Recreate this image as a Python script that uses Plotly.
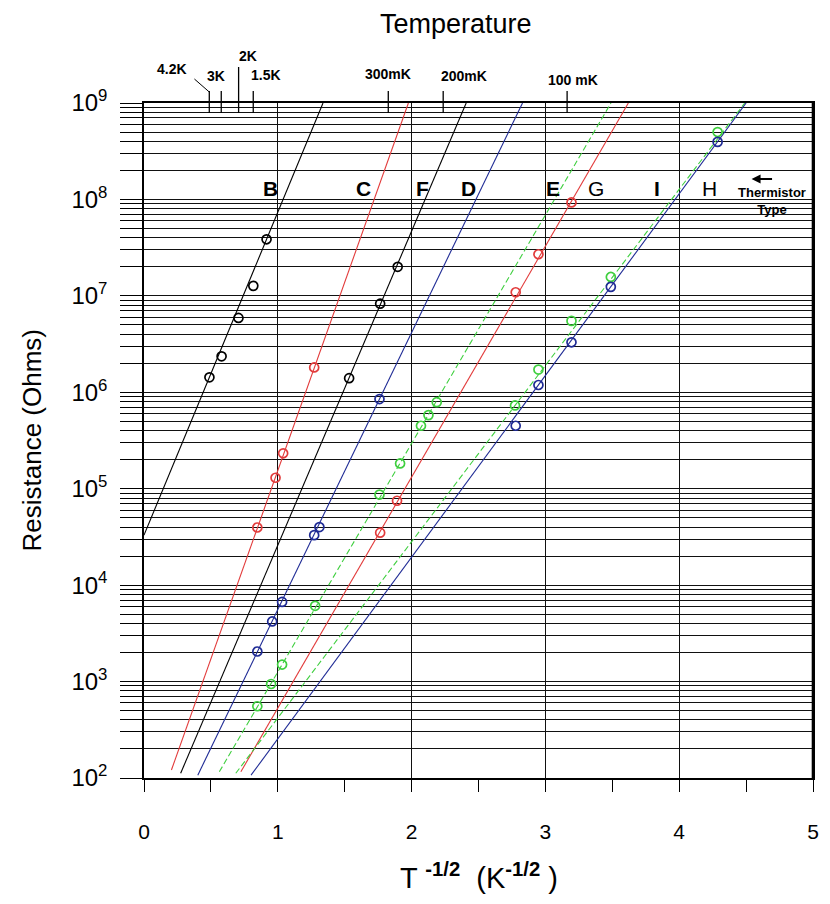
import numpy as np
import plotly.graph_objects as go

# ---------------- data ----------------
types = ["B", "C", "F", "D", "E", "G", "I", "H"]
type_colors = ["#000000", "#e23b3b", "#000000", "#1f2b95", "#3fcf3f", "#e23b3b", "#3fcf3f", "#1f2b95"]
type_dash = ["solid", "solid", "solid", "solid", "6px,3px", "solid", "6px,3px", "solid"]

B_x = [0.489, 0.580, 0.706, 0.817, 0.916]
B_R = [1.43e6, 2.36e6, 5.9e6, 1.27e7, 3.86e7]
C_x = [0.847, 0.983, 1.040, 1.272]
C_R = [3.96e4, 1.30e5, 2.33e5, 1.81e6]
F_x = [1.533, 1.765, 1.896]
F_R = [1.40e6, 8.3e6, 2.0e7]
D_x = [0.847, 0.958, 1.032, 1.272, 1.311, 1.760]
D_R = [2.05e3, 4.2e3, 6.7e3, 3.3e4, 4.0e4, 8.5e5]
E_x = [0.847, 0.950, 1.032, 1.279, 1.760, 1.914, 2.070, 2.126, 2.188]
E_R = [555, 944, 1.5e3, 6.1e3, 8.7e4, 1.83e5, 4.5e5, 5.8e5, 7.9e5]
G_x = [1.765, 1.891, 2.778, 2.948, 3.195]
G_R = [3.5e4, 7.5e4, 1.09e7, 2.7e7, 9.3e7]
I_x = [2.773, 2.948, 3.195, 3.489, 4.287]
I_R = [7.3e5, 1.72e6, 5.5e6, 1.57e7, 5.0e8]
H_x = [2.778, 2.948, 3.195, 3.489, 4.287]
H_R = [4.5e5, 1.19e6, 3.3e6, 1.24e7, 3.95e8]

points_x = [B_x, C_x, F_x, D_x, E_x, G_x, I_x, H_x]
points_R = [B_R, C_R, F_R, D_R, E_R, G_R, I_R, H_R]

# fitted lines: start / end points
fit_x0 = [0.000, 0.205, 0.274, 0.402, 0.563, 0.724, 0.686, 0.800]
fit_R0 = [3.3e4, 121, 112, 107, 116, 116, 112, 107]
fit_x1 = [1.338, 1.976, 2.408, 2.829, 3.490, 3.620, 4.490, 4.500]
fit_R1 = [1e9, 1e9, 1e9, 1e9, 1e9, 1e9, 1e9, 1e9]

# type label positions
label_x = [0.945, 1.637, 2.081, 2.427, 3.057, 3.378, 3.835, 4.230]
label_R = 1.3e8
label_bold = [True, True, True, True, True, False, True, False]

# temperature scale (top)
temps = [4.2, 3.0, 2.0, 1.5, 0.3, 0.2, 0.1]
temp_labels = ["4.2K", "3K", "2K", "1.5K", "300mK", "200mK", "100 mK"]
temp_label_dx = [-37, -5, 9, 13, 0, 21, 6]      # px offset of label from tick
temp_label_py = [69, 76, 56, 75, 74, 76, 80]      # label centre, px from top
temp_tick_top = [91, 91, 67, 91, 91, 91, 91]

y_ticks = [1e2, 1e3, 1e4, 1e5, 1e6, 1e7, 1e8, 1e9]
y_ticktext = ["10<sup>%d</sup>" % k for k in range(2, 10)]
x_ticks = [0, 1, 2, 3, 4, 5]

# ---------------- figure ----------------
W, H = 830, 904
L, R, T, Bm = 144, 11, 103, 126
PW, PH = W - L - R, H - T - Bm
FONT = "Liberation Sans, Arial, sans-serif"


def py2paper(py):
    return (H - Bm - py) / PH


fig = go.Figure()

for i, t in enumerate(types):
    fig.add_trace(go.Scatter(
        x=[fit_x0[i], fit_x1[i]], y=[fit_R0[i], fit_R1[i]], mode="lines",
        line=dict(color=type_colors[i], width=1.1, dash=type_dash[i]),
        showlegend=False, hoverinfo="skip"))

for i, t in enumerate(types):
    fig.add_trace(go.Scatter(
        x=points_x[i], y=points_R[i], mode="markers", name=t,
        marker=dict(symbol="circle-open", size=9, color=type_colors[i],
                    line=dict(width=1.7, color=type_colors[i])),
        showlegend=False))

annotations = []
for i, t in enumerate(types):
    annotations.append(dict(
        x=label_x[i], y=np.log10(label_R), xref="x", yref="y",
        text=("<b>%s</b>" % t) if label_bold[i] else t, showarrow=False,
        font=dict(family=FONT, size=21, color="black"),
        xanchor="center", yanchor="middle"))

shapes = []
for i, Tk in enumerate(temps):
    xv = 1.0 / np.sqrt(Tk)
    shapes.append(dict(type="line", xref="x", yref="paper", x0=xv, x1=xv,
                       y0=py2paper(T + 10), y1=py2paper(temp_tick_top[i]),
                       line=dict(color="black", width=1.3)))
    annotations.append(dict(
        x=xv, y=py2paper(temp_label_py[i]), xref="x", yref="paper",
        xshift=temp_label_dx[i], text="<b>%s</b>" % temp_labels[i], showarrow=False,
        font=dict(family=FONT, size=14, color="black"),
        xanchor="center", yanchor="middle"))

# leader line for 4.2K label
x42 = 1.0 / np.sqrt(temps[0])
shapes.append(dict(type="line", xref="x", yref="paper",
                   x0=x42 - 15 / 135, x1=x42,
                   y0=py2paper(79), y1=py2paper(92),
                   line=dict(color="black", width=1)))

# thicker right border
shapes.append(dict(type="line", xref="paper", yref="paper", x0=1, x1=1, y0=0, y1=1,
                   line=dict(color="black", width=2.6)))

# Temperature title
annotations.append(dict(x=(459 - L) / PW, y=py2paper(24), xref="paper", yref="paper",
                        text="Temperature", showarrow=False,
                        font=dict(family=FONT, size=27, color="black"),
                        xanchor="center", yanchor="middle"))
# y title
annotations.append(dict(x=(30 - L) / PW, y=0.5, xref="paper", yref="paper",
                        text="Resistance (Ohms)", textangle=-90, showarrow=False,
                        font=dict(family=FONT, size=26, color="black"),
                        xanchor="center", yanchor="middle"))
# x title
annotations.append(dict(x=0.5, y=py2paper(876), xref="paper", yref="paper",
                        text="T <sup><b>-1/2</b></sup>  (K<sup><b>-1/2</b></sup> )", showarrow=False,
                        font=dict(family=FONT, size=29, color="black"),
                        xanchor="center", yanchor="middle"))
# Thermistor type note
annotations.append(dict(x=(778 - L) / PW, y=py2paper(201), xref="paper", yref="paper",
                        text="<b>Thermistor</b><br><b>Type</b>", showarrow=False,
                        font=dict(family=FONT, size=13, color="black"),
                        xanchor="center", yanchor="middle"))
annotations.append(dict(x=(757 - L) / PW, y=py2paper(179), xref="paper", yref="paper",
                        ax=22, ay=0, text="", showarrow=True, arrowhead=2,
                        arrowsize=0.9, arrowwidth=2, arrowcolor="black"))

fig.update_layout(
    width=W, height=H,
    margin=dict(l=L, r=R, t=T, b=Bm),
    paper_bgcolor="white", plot_bgcolor="white",
    font=dict(family=FONT, color="black"),
    shapes=shapes, annotations=annotations,
    xaxis=dict(range=[0, 5], tickvals=x_ticks, ticks="outside", ticklen=12,
               tickwidth=1.3, tickcolor="black", showgrid=True, gridcolor="#111111",
               gridwidth=1.2, showline=True, linecolor="black", linewidth=1.5,
               mirror=True, zeroline=False, tickfont=dict(size=21, family=FONT),
               ticklabelstandoff=22,
               minor=dict(dtick=0.5, ticks="outside", ticklen=12, tickwidth=1.2,
                          tickcolor="black", showgrid=False)),
    yaxis=dict(type="log", range=[2, 9], tickvals=y_ticks, ticktext=y_ticktext,
               ticks="outside", ticklen=22, tickwidth=1.3, tickcolor="black",
               showgrid=True, gridcolor="#111111", gridwidth=1.2,
               showline=True, linecolor="black", linewidth=1.5, mirror=True,
               zeroline=False, tickfont=dict(size=24, family=FONT),
               ticklabelstandoff=8,
               minor=dict(dtick="D1", ticks="outside", ticklen=22, tickwidth=1.2,
                          tickcolor="black", showgrid=True, gridcolor="#111111",
                          gridwidth=1.2)),
)

fig.write_html("out.html")
